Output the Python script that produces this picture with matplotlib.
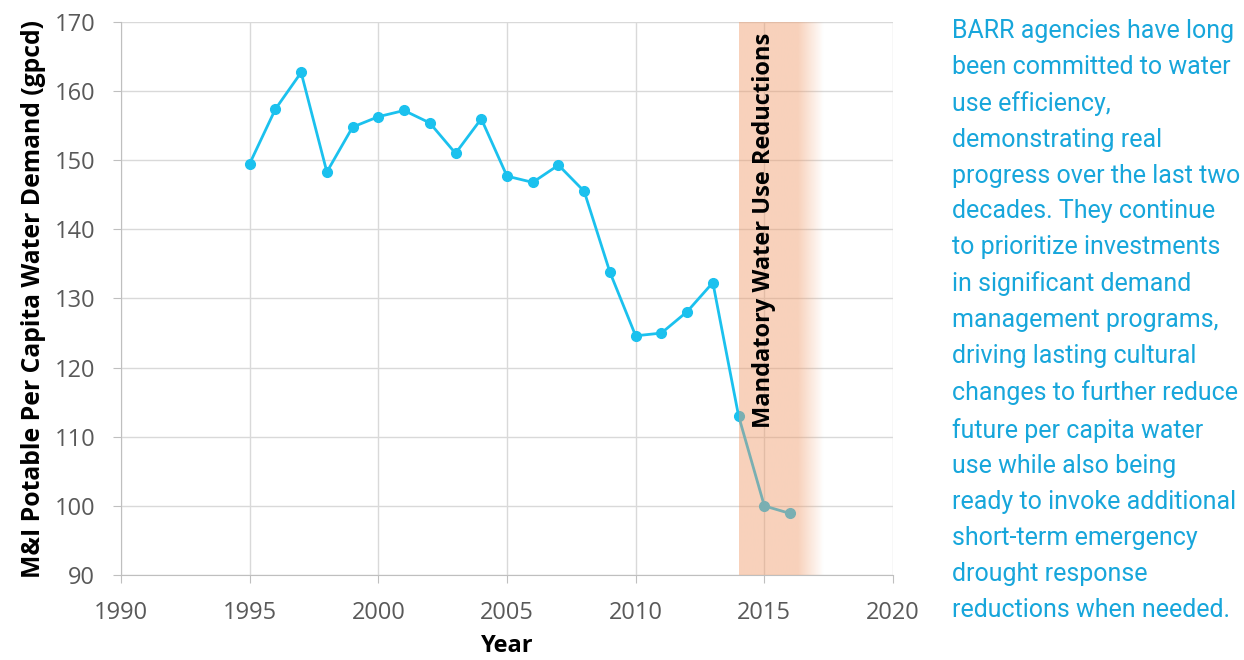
import numpy as np
import matplotlib
matplotlib.use('Agg')
import matplotlib.pyplot as plt
from matplotlib.colors import to_rgb

# data
years = [1995, 1996, 1997, 1998, 1999, 2000, 2001, 2002, 2003, 2004, 2005,
         2006, 2007, 2008, 2009, 2010, 2011, 2012, 2013, 2014, 2015, 2016]
gpcd = [149.5, 157.4, 162.7, 148.3, 154.8, 156.3, 157.2, 155.4, 151.0, 156.0, 147.7,
        146.8, 149.3, 145.5, 133.8, 124.6, 125.0, 128.1, 132.3, 113.0, 100.0, 98.9]
band_start, band_solid_end, band_end = 2014, 2016.3, 2017.3
band_label = 'Mandatory Water Use Reductions'
xticks = [1990, 1995, 2000, 2005, 2010, 2015, 2020]
yticks = [90, 100, 110, 120, 130, 140, 150, 160, 170]
note = ("BARR agencies have long\nbeen committed to water\nuse efficiency,\n"
        "demonstrating real\nprogress over the last two\ndecades. They continue\n"
        "to prioritize investments\nin significant demand\nmanagement programs,\n"
        "driving lasting cultural\nchanges to further reduce\nfuture per capita water\n"
        "use while also being\nready to invoke additional\nshort-term emergency\n"
        "drought response\nreductions when needed.")

plt.rcParams['font.family'] = ['Open Sans', 'DejaVu Sans']

fig = plt.figure(figsize=(12.44, 6.6), dpi=100)
ax = fig.add_axes([121/1244, 85/660, 772/1244, 553/660])

ax.plot(years, gpcd, color='#1BC1EE', lw=2, marker='o', markersize=7, zorder=3)

# shaded band that fades out on its right side
n = 200
xs = np.linspace(band_start, band_end, n)
alpha = np.clip((band_end - xs) / (band_end - band_solid_end), 0, 1) * 0.45
rgba = np.zeros((1, n, 4))
rgba[..., :3] = to_rgb('#F09A68')
rgba[0, :, 3] = alpha
ax.imshow(rgba, extent=[band_start, band_end, 90, 170], aspect='auto', zorder=4,
          interpolation='bilinear')

ax.text(band_start + 0.97, 168.5, band_label, rotation=90, ha='center', va='top',
        fontsize=17, fontweight='bold', color='black', zorder=5)

ax.set_xlim(1990, 2020)
ax.set_ylim(90, 170)
ax.set_xticks(xticks)
ax.set_yticks(yticks)
ax.grid(True, color='#D9D9D9', lw=1)
ax.set_axisbelow(True)
for s in ['top', 'right']:
    ax.spines[s].set_visible(False)
for s in ['left', 'bottom']:
    ax.spines[s].set_color('#BFBFBF')
ax.tick_params(colors='#BFBFBF', labelcolor='#595959', labelsize=17, length=5.5, pad=13)
ax.set_xlabel('Year', fontsize=17, fontweight='bold', labelpad=7)
ax.set_ylabel('M&I Potable Per Capita Water Demand (gpcd)', fontsize=17.8,
              fontweight='bold', labelpad=6)

fig.text(952/1244, 1 - 19/660, note, ha='left', va='top', fontsize=18,
         color='#17A6DB', linespacing=1.62, family=['Roboto', 'DejaVu Sans'])

fig.savefig('out.png', dpi=100)
